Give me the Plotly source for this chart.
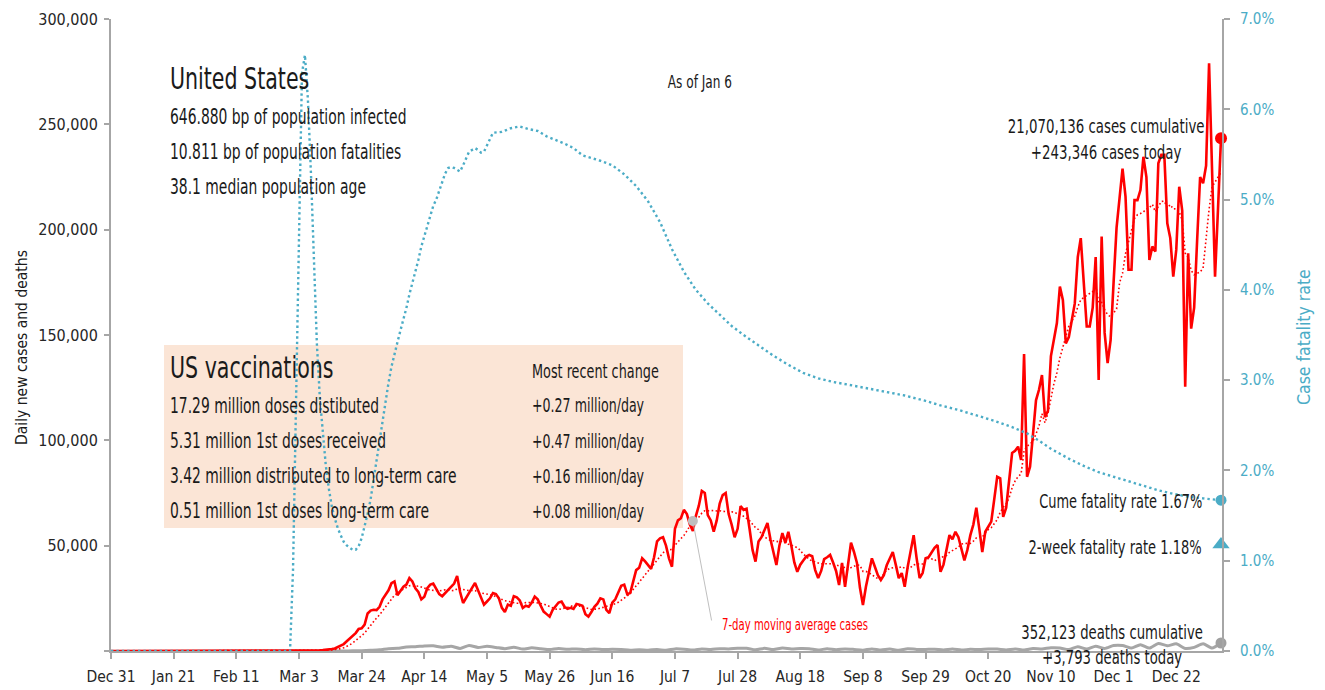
import pandas as pd
import plotly.graph_objects as go

# ---------------- data ----------------
start_date = "2019-12-31"
# daily new cases, Dec 31 2019 .. Jan 6 2021 (rows of 7 days, starting Tuesday)
cases = [
    0, 0, 0, 0, 0, 0, 0,
    0, 0, 0, 0, 0, 0, 0,
    0, 0, 0, 0, 0, 0, 0,
    1, 0, 1, 0, 2, 0, 0,
    0, 0, 1, 0, 2, 0, 0,
    0, 0, 0, 1, 0, 0, 0,
    0, 0, 0, 0, 0, 0, 0,
    0, 0, 0, 0, 0, 0, 0,
    1, 2, 5, 8, 10, 12, 18,
    25, 30, 45, 70, 100, 120, 180,
    290, 400, 500, 650, 950, 1200, 1800,
    2500, 3300, 4600, 6000, 7100, 8500, 10500,
    10800, 12500, 17800, 19200, 19600, 19400, 21000,
    24500, 26500, 28800, 32200, 33000, 26500, 28500,
    30500, 31500, 34600, 33000, 29800, 28000, 24500,
    25800, 29800, 31500, 32000, 29500, 27000, 26000,
    27500, 28500, 30000, 32000, 35600, 28000, 22800,
    25000, 27500, 30000, 32300, 29000, 26000, 22000,
    23500, 25000, 27500, 27000, 25000, 20500, 18500,
    22000, 21500, 26000, 25500, 24000, 20400, 21500,
    21000, 23000, 25800, 24500, 21500, 18700, 17500,
    16300, 19500, 21500, 23000, 23500, 21000, 20000,
    20500, 20000, 22300, 22000, 21500, 17500, 16300,
    18500, 21000, 22500, 25000, 24500, 19500, 18000,
    23000, 24500, 27500, 31000, 31500, 27000, 27500,
    33500, 38400, 39500, 44000, 42500, 41000, 39000,
    44500, 52000, 53500, 54000, 50000, 44000, 40000,
    58000, 62000, 63000, 67000, 65000, 60000, 57000,
    64000, 69000, 76000, 75000, 64500, 62000, 56600,
    62000, 70000, 74000, 75000, 65000, 60000, 54000,
    58000, 68800, 67000, 67500, 58000, 48000, 42400,
    52000, 54000, 57000, 60800, 53000, 47000, 40800,
    50000, 56000, 51300, 56600, 50000, 42000, 37600,
    41000, 43000, 44800, 45600, 45000, 38400, 34600,
    38000, 43600, 44500, 45600, 42000, 38000, 31300,
    41800, 30500, 42000, 51400, 47000, 41800, 30000,
    21800, 30500, 38000, 44000, 40000, 36000, 33700,
    36000, 40800, 44000, 47000, 41000, 34600, 37000,
    30500, 40000, 48000, 55000, 44000, 34600, 37000,
    44000, 44500, 47000, 49000, 50300, 37600, 41000,
    48000, 55000, 53000, 56600, 54000, 48000, 43000,
    48000, 55000, 60000, 68000, 58000, 47000, 56600,
    59000, 61400, 72000, 82700, 82000, 63700, 68000,
    80000, 94000, 95000, 97000, 90700, 141000, 82700,
    87500, 103000, 119000, 124000, 131000, 111000, 114000,
    140000, 149000, 155700, 173000, 166600, 146000, 149000,
    157000, 165000, 187000, 196000, 175000, 154000, 154000,
    163000, 187000, 128600, 196700, 151000, 136700, 147600,
    175000, 201000, 215000, 229000, 215700, 181000, 181000,
    214000, 214000, 218800, 234600, 225000, 185600, 192000,
    189600, 231500, 235500, 235500, 203000, 196000, 177700,
    190400, 220400, 209000, 125500, 188800, 153000, 163000,
    195000, 225000, 222000, 230400, 279000, 228000, 177700,
    210000, 243346,
]

# daily deaths, read every 3 days from Feb 29 2020 to Jan 6 2021
deaths_start = "2020-02-29"
deaths = [
    0, 2, 3, 5, 10, 15, 30, 60, 150, 350,
    550, 1100, 1300, 1900, 2000, 2400, 2500, 1800, 2300, 1200,
    2600, 1700, 2200, 1700, 1100, 1800, 900, 1500, 1100, 700,
    1200, 800, 1000, 600, 950, 700, 800, 700, 400, 650,
    400, 700, 300, 1000, 850, 450, 950, 700, 1100, 1000,
    1300, 1300, 550, 1250, 700, 1400, 1000, 1200, 1100, 450,
    1100, 600, 1000, 750, 400, 1000, 450, 900, 300, 1100,
    750, 750, 850, 450, 950, 450, 800, 700, 950, 900,
    500, 1000, 450, 1200, 1000, 1500, 1400, 700, 2000, 900,
    2300, 1200, 2600, 2600, 1400, 3000, 1400, 3600, 2500, 3400,
    1200, 1700, 3400, 1400, 3793,
]

# cumulative case fatality rate (%)
cfr_dates = [
    "2019-12-31", "2020-02-29", "2020-03-01", "2020-03-02", "2020-03-03", "2020-03-04",
    "2020-03-05", "2020-03-06", "2020-03-07", "2020-03-08", "2020-03-09", "2020-03-10",
    "2020-03-11", "2020-03-12", "2020-03-13", "2020-03-14", "2020-03-15", "2020-03-16",
    "2020-03-17", "2020-03-18", "2020-03-19", "2020-03-20", "2020-03-21", "2020-03-22",
    "2020-03-23", "2020-03-24", "2020-03-25", "2020-03-26", "2020-03-27", "2020-03-28",
    "2020-03-29", "2020-03-30", "2020-03-31", "2020-04-01", "2020-04-02", "2020-04-03",
    "2020-04-04", "2020-04-05", "2020-04-06", "2020-04-07", "2020-04-08", "2020-04-09",
    "2020-04-10", "2020-04-11", "2020-04-12", "2020-04-13", "2020-04-14", "2020-04-15",
    "2020-04-16", "2020-04-17", "2020-04-18", "2020-04-19", "2020-04-20", "2020-04-21",
    "2020-04-22", "2020-04-23", "2020-04-24", "2020-04-25", "2020-04-26", "2020-04-27",
    "2020-04-28", "2020-04-29", "2020-04-30", "2020-05-01", "2020-05-02", "2020-05-03",
    "2020-05-04", "2020-05-05", "2020-05-06", "2020-05-07", "2020-05-10", "2020-05-13",
    "2020-05-16", "2020-05-19", "2020-05-22", "2020-05-25", "2020-05-28", "2020-05-31",
    "2020-06-03", "2020-06-06", "2020-06-09", "2020-06-12", "2020-06-16", "2020-06-20",
    "2020-06-24", "2020-06-28", "2020-07-02", "2020-07-06", "2020-07-10", "2020-07-14",
    "2020-07-18", "2020-07-22", "2020-07-26", "2020-07-30", "2020-08-04", "2020-08-09",
    "2020-08-14", "2020-08-19", "2020-08-24", "2020-08-29", "2020-09-03", "2020-09-08",
    "2020-09-13", "2020-09-18", "2020-09-22", "2020-09-29", "2020-10-04", "2020-10-10",
    "2020-10-16", "2020-10-22", "2020-10-28", "2020-11-02", "2020-11-06", "2020-11-10",
    "2020-11-16", "2020-11-21", "2020-11-26", "2020-12-01", "2020-12-06", "2020-12-11",
    "2020-12-16", "2020-12-21", "2020-12-26", "2020-12-31", "2021-01-06",
]
cfr = [
    0.0, 0.0, 0.9, 2.8, 4.7, 6.4,
    6.6, 6.1, 5.3, 4.3, 3.4, 2.8,
    2.4, 2.05, 1.8, 1.6, 1.47, 1.36,
    1.28, 1.21, 1.17, 1.14, 1.12, 1.12,
    1.16, 1.25, 1.38, 1.52, 1.68, 1.9,
    2.13, 2.36, 2.58, 2.78, 2.97, 3.15,
    3.3, 3.42, 3.55, 3.67, 3.8, 3.95,
    4.07, 4.2, 4.33, 4.48, 4.6, 4.72,
    4.84, 4.93, 5.0, 5.1, 5.2, 5.29,
    5.35, 5.36, 5.35, 5.33, 5.31, 5.38,
    5.46, 5.53, 5.55, 5.57, 5.55, 5.52,
    5.53, 5.6, 5.68, 5.74, 5.75, 5.79,
    5.81, 5.78, 5.76, 5.70, 5.66, 5.62,
    5.57, 5.49, 5.46, 5.43, 5.38, 5.28,
    5.15, 4.98, 4.75, 4.45, 4.2, 4.0,
    3.85, 3.72, 3.6, 3.5, 3.38, 3.27,
    3.17, 3.08, 3.02, 2.98, 2.95, 2.92,
    2.89, 2.86, 2.83, 2.77, 2.72, 2.67,
    2.61, 2.55, 2.48, 2.41, 2.33, 2.24,
    2.13, 2.05, 1.98, 1.93, 1.88, 1.83,
    1.78, 1.74, 1.71, 1.69, 1.67,
]
cfr_2week = 1.18

x_tick_dates = ["2019-12-31", "2020-01-21", "2020-02-11", "2020-03-03", "2020-03-24",
                "2020-04-14", "2020-05-05", "2020-05-26", "2020-06-16", "2020-07-07",
                "2020-07-28", "2020-08-18", "2020-09-08", "2020-09-29", "2020-10-20",
                "2020-11-10", "2020-12-01", "2020-12-22"]
y_ticks = [0, 50000, 100000, 150000, 200000, 250000, 300000]
y_tick_text = ["", "50,000", "100,000", "150,000", "200,000", "250,000", "300,000"]
y2_ticks = [0, 1, 2, 3, 4, 5, 6, 7]
y2_tick_text = ["0.0%", "1.0%", "2.0%", "3.0%", "4.0%", "5.0%", "6.0%", "7.0%"]

vacc_rows = ["17.29 million doses distibuted", "5.31 million 1st doses received",
             "3.42 million distributed to long-term care", "0.51 million 1st doses long-term care"]
vacc_changes = ["+0.27 million/day", "+0.47 million/day", "+0.16 million/day", "+0.08 million/day"]

# ---------------- derived ----------------
dates = pd.date_range(start_date, periods=len(cases), freq="D")
ma7 = pd.Series(cases).rolling(7, min_periods=1).mean()
death_dates = pd.date_range(deaths_start, periods=len(deaths), freq="3D")
callout_date = pd.Timestamp("2020-07-13")
callout_val = float(ma7[list(dates).index(callout_date)])

FONT = "DejaVu Sans Condensed, DejaVu Sans, sans-serif"
RED = "#FF0000"
BLUE = "#4BACC6"
GREY = "#A6A6A6"
AXIS = "#A6A6A6"
TXT = "#1a1a1a"

fig = go.Figure()
fig.add_trace(go.Scatter(x=death_dates, y=deaths, mode="lines",
                         line=dict(color=GREY, width=3, shape="spline", smoothing=0.6),
                         hoverinfo="skip"))
fig.add_trace(go.Scatter(x=dates, y=ma7, mode="lines",
                         line=dict(color=RED, width=1.6, dash="1.6px,2.4px"), hoverinfo="skip"))
fig.add_trace(go.Scatter(x=dates, y=cases, mode="lines",
                         line=dict(color=RED, width=2.6), hoverinfo="skip"))
fig.add_trace(go.Scatter(x=[callout_date], y=[callout_val], mode="markers",
                         marker=dict(color="#BFBFBF", size=10), hoverinfo="skip"))
fig.add_trace(go.Scatter(x=[dates[-1]], y=[cases[-1]], mode="markers", cliponaxis=False,
                         marker=dict(color=RED, size=12), hoverinfo="skip"))
fig.add_trace(go.Scatter(x=[death_dates[-1]], y=[deaths[-1]], mode="markers", cliponaxis=False,
                         marker=dict(color="#A0A0A0", size=11), hoverinfo="skip"))
fig.add_trace(go.Scatter(x=pd.to_datetime(cfr_dates), y=cfr, mode="lines", yaxis="y2",
                         line=dict(color=BLUE, width=2.4, dash="2.4px,3px"), hoverinfo="skip"))
fig.add_trace(go.Scatter(x=[pd.Timestamp(cfr_dates[-1])], y=[cfr[-1]], mode="markers", yaxis="y2",
                         cliponaxis=False, marker=dict(color=BLUE, size=11), hoverinfo="skip"))
fig.add_trace(go.Scatter(x=[pd.Timestamp(cfr_dates[-1])], y=[cfr_2week], mode="markers", yaxis="y2",
                         cliponaxis=False, marker=dict(color=BLUE, size=15, symbol="triangle-up"),
                         hoverinfo="skip"))

W0, W1 = 111, 1222   # plot area pixel bounds (for placing annotations)
H0, H1 = 19, 651


def px(x):
    return (x - W0) / (W1 - W0)


def py(y):
    return (H1 - y) / (H1 - H0)


ann = []


def text(x, y, s, size, color=TXT, xanchor="left", align=None, angle=0):
    if align is None:
        align = xanchor
    ann.append(dict(x=px(x), y=py(y), xref="paper", yref="paper", text=s, showarrow=False,
                    xanchor=xanchor, yanchor="middle", align=align, textangle=angle,
                    font=dict(family=FONT, size=size, color=color)))


text(168, 78, "United States", 30.5)
text(168, 117, "646.880 bp of population infected", 20.6)
text(168, 152, "10.811 bp of population fatalities", 20.6)
text(168, 187, "38.1 median population age", 20.6)
text(700, 82, "As of Jan 6", 18, xanchor="center")

text(168, 367, "US vaccinations", 30.5)
text(530, 371, "Most recent change", 19)
for i, (a, b) in enumerate(zip(vacc_rows, vacc_changes)):
    yy = 406 + 35 * i
    text(168, yy, a, 20.6)
    text(530, yy, b, 18.7)

text(1106, 139.5, "21,070,136 cases cumulative<br>+243,346 cases today", 19.8, xanchor="center")
text(1204, 501, "Cume fatality rate 1.67%", 19.2, xanchor="right")
text(1204, 547, "2-week fatality rate 1.18%", 19.3, xanchor="right")
text(1112, 644.5, "352,123 deaths cumulative<br>+3,793 deaths today", 19.6, xanchor="center")
text(720, 625, "7-day moving average cases", 15, color=RED)

text(22, 348, "Daily new cases and deaths", 15.5, xanchor="center", angle=-90)
text(1304, 337, "Case fatality rate", 17.5, color=BLUE, xanchor="center", angle=-90)

ann.append(dict(x=callout_date, y=callout_val, xref="x", yref="y", text="", showarrow=True,
                arrowhead=0, arrowwidth=1, arrowcolor="#BFBFBF", ax=19, ay=101, standoff=0))

fig.update_layout(
    width=1325, height=690,
    margin=dict(l=W0, r=1325 - W1, t=H0, b=690 - H1, autoexpand=False),
    plot_bgcolor="white", paper_bgcolor="white",
    showlegend=False,
    font=dict(family=FONT, size=16, color="#262626"),
    annotations=ann,
    shapes=[dict(type="rect", xref="paper", yref="paper", x0=px(164), x1=px(683),
                 y0=py(528), y1=py(345), fillcolor="#FBE5D6", line=dict(width=0),
                 layer="below")],
    xaxis=dict(type="date", range=["2019-12-31", "2021-01-06 08:00"],
               tickvals=pd.to_datetime(x_tick_dates), tickformat="%b %-d",
               ticks="outside", ticklen=6, tickwidth=1.5, tickcolor=AXIS,
               showline=True, linecolor=AXIS, linewidth=2, showgrid=False, zeroline=False,
               automargin=False, ticklabelstandoff=4,
               tickfont=dict(family=FONT, size=15.5, color="#262626")),
    yaxis=dict(range=[0, 300000], tickvals=y_ticks, ticktext=y_tick_text,
               ticks="outside", ticklen=5, tickwidth=1.5, tickcolor=AXIS,
               showline=True, linecolor=AXIS, linewidth=2, showgrid=False, zeroline=False,
               automargin=False, ticklabelstandoff=3,
               tickfont=dict(family=FONT, size=16, color="#262626")),
    yaxis2=dict(range=[0, 7], overlaying="y", side="right", anchor="x",
                tickvals=y2_ticks, ticktext=y2_tick_text,
                ticks="outside", ticklen=6, tickwidth=1.5, tickcolor=AXIS,
                showline=True, linecolor=AXIS, linewidth=2, showgrid=False, zeroline=False,
                automargin=False, ticklabelstandoff=7,
                tickfont=dict(family=FONT, size=15, color=BLUE)),
)

# the reference uses a condensed typeface: narrow the annotation glyphs horizontally,
# keeping each text's anchor point (left / centre / right) fixed
post = """
document.body.style.margin = '0';
var S = 0.75;
var keep = ['Daily new cases and deaths', 'Case fatality rate'];
document.querySelectorAll('text.annotation-text').forEach(function (t) {
  if (keep.indexOf(t.textContent) >= 0) return;
  var x = parseFloat(t.getAttribute('x')) || 0;
  var prev = t.getAttribute('transform') || '';
  t.setAttribute('transform', prev + ' translate(' + x + ',0) scale(' + S + ',1) translate(' + (-x) + ',0)');
});
"""

fig.write_html("out.html", config={"displayModeBar": False}, post_script=post)
